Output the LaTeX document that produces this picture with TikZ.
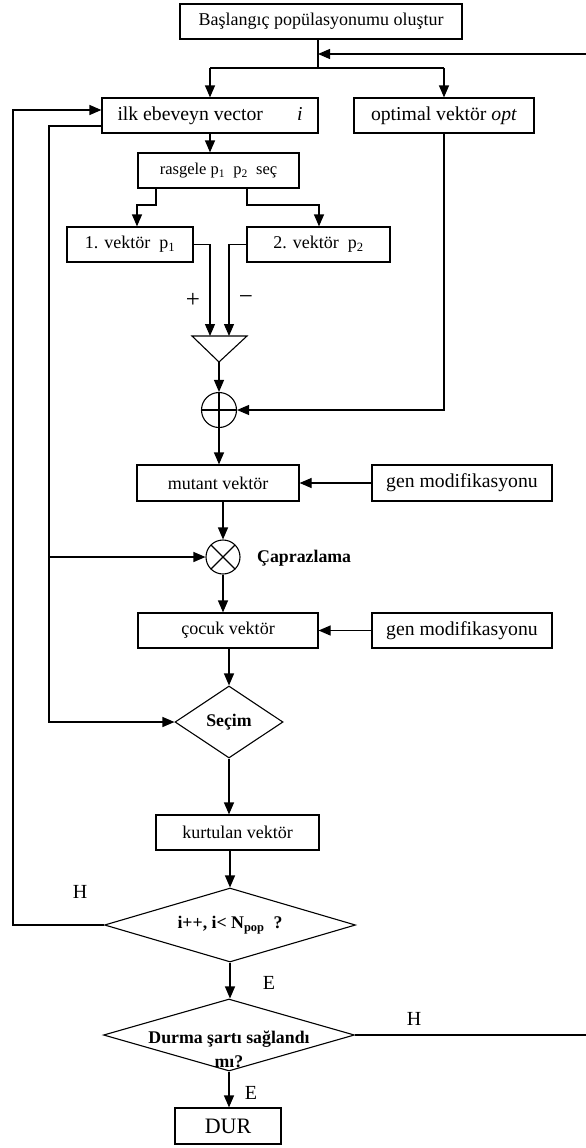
\documentclass[tikz,border=0pt]{standalone}
\usepackage{fontspec}
\setmainfont{Liberation Serif}
\usetikzlibrary{arrows.meta,shapes.geometric,calc}
\newcommand\fsz[2]{\fontsize{#1}{#2}\selectfont}
\tikzset{
  ln/.style={line width=1.2pt},
  arr/.style={line width=1.2pt, -{Triangle[length=12pt,width=10pt]}},
  box/.style={draw, rectangle, line width=1.2pt, inner sep=0pt, minimum height=35pt, font=\fsz{18}{21}},
  bigbox/.style={box, font=\fsz{19.7}{22}},
  dia/.style={draw, diamond, line width=1.1pt, inner sep=0pt},
  opsign/.style={draw, circle, line width=1.1pt, inner sep=0pt, minimum size=35pt},
  lbl/.style={inner sep=0pt, font=\fsz{20}{22}},
  sign/.style={inner sep=0pt, font=\fsz{25}{26}},
  btxt/.style={inner sep=0pt, font=\bfseries\fsz{17.8}{24}, align=center},
}
\begin{document}
\begin{tikzpicture}[x=1pt, y=-1pt]
\fill[white] (0,0) rectangle (586,1148);
\useasboundingbox (0,0) rectangle (586,1148);

% --- boxes ---
\node[box, minimum width=282pt, font=\fsz{18}{20}] (start) at (321,21.5) {Başlangıç popülasyonumu oluştur};
\node[bigbox, minimum width=216pt] (ilk) at (210,115.5) {ilk ebeveyn vector\hspace{34pt}\textit{i}};
\node[bigbox, minimum width=180pt] (opt) at (444,115.5) {optimal vektör \textit{opt}};
\node[box, minimum width=161pt, font=\fsz{16.5}{20}] (rasgele) at (218.5,170.5) {rasgele p\textsubscript{1}\ \ p\textsubscript{2}\ \ seç};
\node[box, minimum width=126pt] (v1) at (130,244.5) {1. vektör\ \ p\textsubscript{1}};
\node[box, minimum width=143pt] (v2) at (318.5,244.5) {2. vektör\ \ p\textsubscript{2}};
\node[box, minimum width=162pt, minimum height=36pt] (mutant) at (218,483) {mutant vektör};
\node[bigbox, minimum width=180pt, minimum height=36pt] (gen1) at (462,483) {gen modifikasyonu};
\node[box, minimum width=180pt] (cocuk) at (228,630.5) {çocuk vektör};
\node[bigbox, minimum width=180pt] (gen2) at (462,630.5) {gen modifikasyonu};
\node[box, minimum width=163pt] (kurt) at (237.5,832.5) {kurtulan vektör};
\node[box, minimum width=106pt, minimum height=36pt, font=\fsz{22}{24}] (dur) at (228,1126) {DUR};

% --- decisions ---
\node[dia, minimum width=108pt, minimum height=72pt] (secim) at (229,722) {};
\node[btxt] (secimtxt) at (secim.center) {Seçim};
\node[dia, minimum width=251pt, minimum height=74pt] (ipp) at (230,925) {};
\node[btxt] (ipptxt) at (ipp.center) {i++, i< N\textsubscript{pop}\ \ ?};
\node[dia, minimum width=251pt, minimum height=72pt] (durma) at (229,1035) {};
\node[btxt] (durmatxt) at (229,1049) {Durma şartı sağlandı\\mı?};

% --- difference, sum and crossover ---
\coordinate (triL) at (192,336);
\coordinate (triR) at (247,336);
\coordinate (apex) at (219,362);
\draw[line width=1.1pt] (triL) -- (triR) -- (apex) -- cycle;
\node[sign] (plus) at (193,300) {+};
\node[sign] (minus) at (246,300) {−};
\node[opsign, path picture={\draw[line width=1.1pt]
   (path picture bounding box.north) -- (path picture bounding box.south)
   (path picture bounding box.east) -- (path picture bounding box.west);}] (sum) at (219,410) {};
\node[opsign, minimum size=34pt, path picture={\draw[line width=1.1pt]
   (path picture bounding box.north west) -- (path picture bounding box.south east)
   (path picture bounding box.north east) -- (path picture bounding box.south west);}] (cross) at (223,557) {};
\node[btxt, anchor=west] (caprazlama) at (257,558) {Çaprazlama};

% --- branch labels ---
\node[lbl] (h1) at (80,892) {H};
\node[lbl] (e1) at (269,983) {E};
\node[lbl] (h2) at (414,1019) {H};
\node[lbl] (e2) at (251,1093) {E};

% --- helper points ---
\coordinate (jtop) at (318,54);
\coordinate (jsplit) at (318,68);
\coordinate (sL) at (210,68);
\coordinate (sR) at (444,68);
\coordinate (rEdge) at (594,54);
\coordinate (bL) at (156,205);
\coordinate (bL2) at (137,205);
\coordinate (bR) at (247,205);
\coordinate (bR2) at (319,205);
\coordinate (m1) at (210,336);
\coordinate (m2) at (229,336);
\coordinate (outerX) at (13,0);
\coordinate (innerX) at (49,0);
\coordinate (ilkIn) at ($(ilk.west)+(0,-5.5)$);
\coordinate (ilkOut) at ($(ilk.west)+(0,10.5)$);

% --- connectors ---
\draw[ln] (start.south -| jtop) -- (jsplit);
\draw[ln] (sL) -- (sR);
\draw[arr] (sL) -- (ilk.north);
\draw[arr] (sR) -- (opt.north);
\draw[arr] (durma.east) -- (durma.east -| rEdge) -- (rEdge) -- (jtop);

\draw[arr] (ilk.south) -- (ilk.south |- rasgele.north);
\draw[arr] (rasgele.south -| bL) -- (bL) -- (bL2) -- (bL2 |- v1.north);
\draw[arr] (rasgele.south -| bR) -- (bR) -- (bR2) -- (bR2 |- v2.north);
\draw[arr] (v1.east) -| (m1);
\draw[arr] (v2.west) -| (m2);
\draw[arr] (apex) -- (sum.north);
\draw[arr] (opt.south) -- (opt.south |- sum) -- (sum.east);
\draw[arr] (sum.south) -- (sum.south |- mutant.north);
\draw[arr] (gen1.west) -- (mutant.east);
\draw[arr] (mutant.south -| cross) -- (cross.north);
\draw[arr] (cross.south) -- (cross.south |- cocuk.north);
\draw[arr] (gen2.west) -- (cocuk.east);
\draw[arr] (cocuk.south -| secim) -- (secim.north);
\draw[arr] (secim.south) -- (secim.south |- kurt.north);
\draw[arr] (kurt.south -| ipp) -- (ipp.north);
\draw[arr] (ipp.south) -- (ipp.south |- durma.north);
\draw[arr] (durma.south) -- (durma.south |- dur.north);

% feedback lines on the left
\draw[arr] (ipp.west) -- (ipp.west -| outerX) -- (outerX |- ilkIn) -- (ilkIn);
\draw[arr] (ilkOut) -- (ilkOut -| innerX) -- (innerX |- secim) -- (secim.west);
\draw[arr] (innerX |- cross) -- (cross.west);
\end{tikzpicture}
\end{document}
